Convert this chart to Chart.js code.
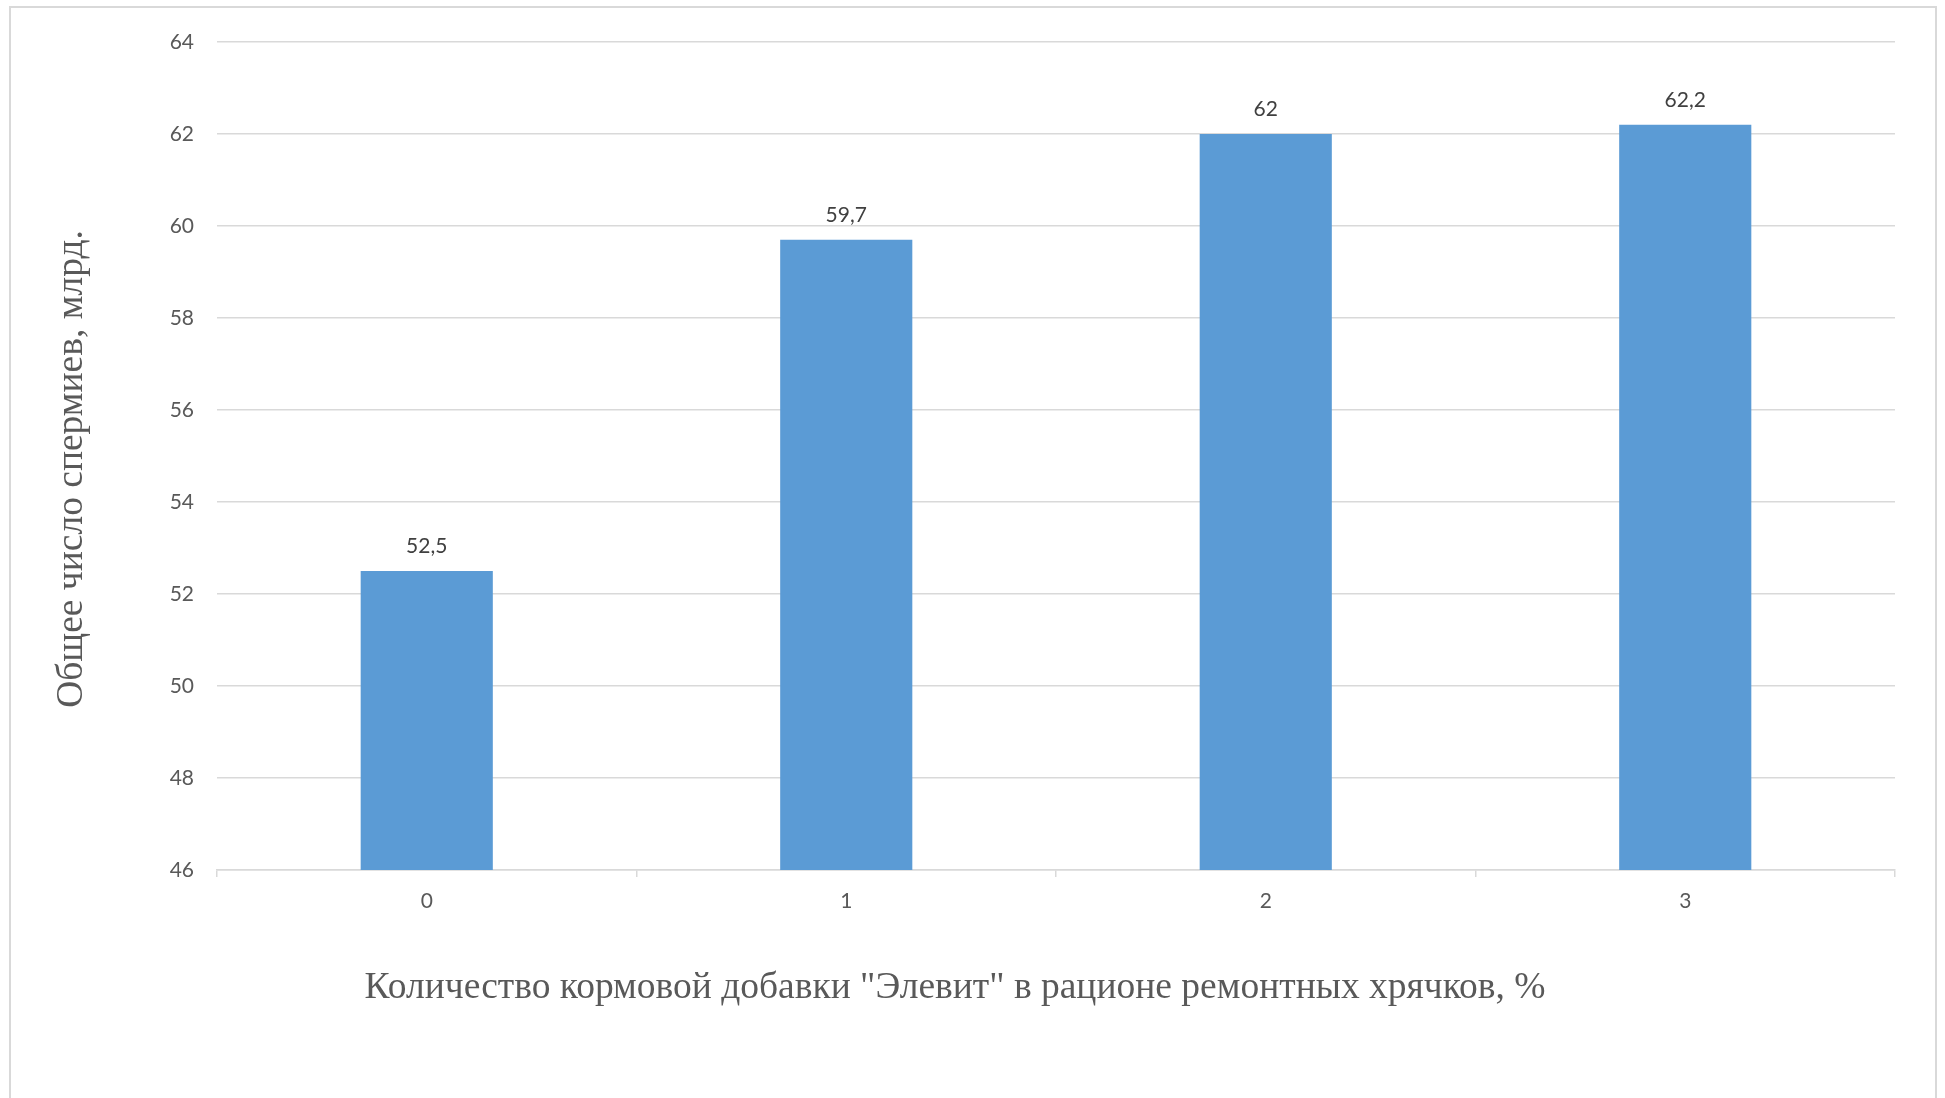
<!DOCTYPE html>
<html>
<head>
<meta charset="utf-8">
<script src="https://cdn.jsdelivr.net/npm/chart.js@4"></script>
<style>
  html, body { margin: 0; padding: 0; background: #fff; overflow: hidden; }
  #frame {
    position: absolute; left: 9px; top: 6px; width: 1928px; height: 1110px;
    border: 2px solid #d9d9d9; box-sizing: border-box;
  }
  #wrap { position: absolute; left: 0; top: 0; width: 1945px; height: 1098px; }
</style>
</head>
<body>
<div id="frame"></div>
<div id="wrap"><canvas id="chart"></canvas></div>
<script>
// данные
const categories = ['0', '1', '2', '3'];
const spermCounts = [52.5, 59.7, 62, 62.2];
const yMin = 46;
const yMax = 64;
const yStep = 2;

const xTitle = 'Количество кормовой добавки "Элевит" в рационе ремонтных хрячков, %';
const yTitle = 'Общее число спермиев, млрд.';

// подписи значений над столбцами + названия осей (как в Excel, не по центру области)
const valueLabels = {
    id: 'valueLabels',
    afterDatasetsDraw(chart) {
        const ctx = chart.ctx;
        const meta = chart.getDatasetMeta(0);
        ctx.save();
        ctx.font = '21px Lato';
        ctx.fillStyle = '#404040';
        ctx.textAlign = 'center';
        ctx.textBaseline = 'middle';
        meta.data.forEach((bar, i) => {
            const txt = String(spermCounts[i]).replace('.', ',');
            ctx.fillText(txt, bar.x, bar.y - 25);
        });
        ctx.restore();
    },
    afterDraw(chart) {
        const ctx = chart.ctx;
        ctx.save();
        ctx.font = '37.5px "Liberation Serif"';
        ctx.fillStyle = '#595959';
        ctx.textAlign = 'center';
        ctx.textBaseline = 'middle';
        ctx.fillText(xTitle, 955, 988);
        ctx.translate(72, 469);
        ctx.rotate(-Math.PI / 2);
        ctx.fillText(yTitle, 0, 0);
        ctx.restore();
    }
};

const ctx = document.getElementById('chart').getContext('2d');
new Chart(ctx, {
    type: 'bar',
    data: {
        labels: categories,
        datasets: [{
            data: spermCounts,
            backgroundColor: '#5b9bd5',
            borderWidth: 0,
            categoryPercentage: 1,
            barPercentage: 0.315
        }]
    },
    options: {
        responsive: true,
        maintainAspectRatio: false,
        animation: false,
        layout: { padding: { left: 40, top: 42, right: 50, bottom: 0 } },
        plugins: {
            legend: { display: false },
            tooltip: { enabled: false }
        },
        scales: {
            x: {
                grid: {
                    drawOnChartArea: false,
                    drawTicks: true,
                    tickLength: 7,
                    color: '#d9d9d9',
                    lineWidth: 1.5
                },
                border: { color: '#d9d9d9', width: 1.5 },
                ticks: {
                    color: '#595959',
                    font: { family: 'Lato', size: 21 },
                    padding: 12
                },
                afterFit(scale) { scale.height = 228; }
            },
            y: {
                min: yMin,
                max: yMax,
                grid: {
                    color: '#d9d9d9',
                    lineWidth: 1.5,
                    drawTicks: false
                },
                border: { display: false },
                ticks: {
                    stepSize: yStep,
                    color: '#595959',
                    font: { family: 'Lato', size: 21 },
                    padding: 23
                },
                afterFit(scale) { scale.width = 177; }
            }
        }
    },
    plugins: [valueLabels]
});
</script>
</body>
</html>
